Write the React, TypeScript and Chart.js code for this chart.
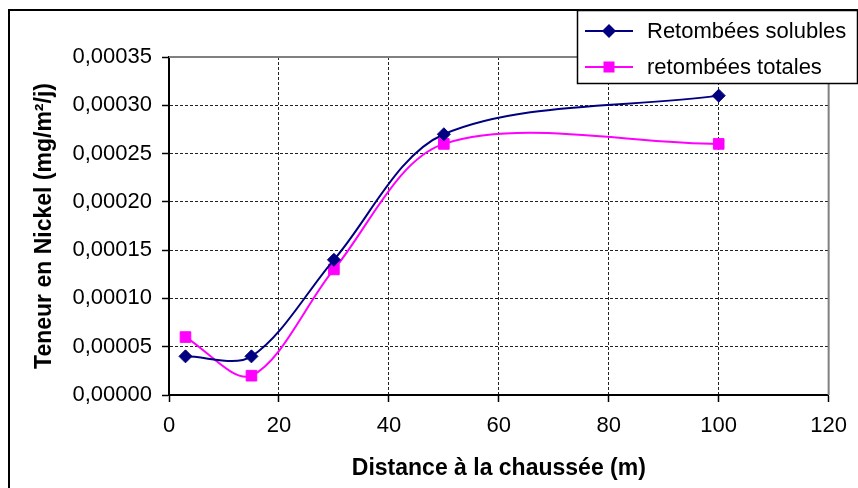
import React, { useEffect, useRef } from 'react';
import { Chart, registerables } from 'chart.js';

Chart.register(...registerables);

// ---- data ----
const distances = [3, 15, 30, 50, 100];
const solubles = [0.00004, 0.00004, 0.00014, 0.00027, 0.00031];
const totales = [0.00006, 0.00002, 0.00013, 0.00026, 0.00026];
const seriesLabels = ['Retombées solubles', 'retombées totales'];
const seriesColors = ['#000080', '#FF00FF'];
const xTitle = 'Distance à la chaussée (m)';
const yTitle = 'Teneur en Nickel (mg/m²/j)';
const xTicks = { min: 0, max: 120, step: 20 };
const yTicks = { min: 0, max: 0.00035, step: 0.00005 };

const FONT = 'Arial, "Liberation Sans", sans-serif';

const framePlugin = {
  id: 'frameAndLegend',
  beforeDatasetsDraw(chart: any) {
    const { ctx, chartArea } = chart;
    const { left, top, right, bottom } = chartArea;
    ctx.save();
    ctx.strokeStyle = '#808080';
    ctx.lineWidth = 2;
    ctx.setLineDash([]);
    ctx.beginPath();
    ctx.moveTo(left, top);
    ctx.lineTo(right, top);
    ctx.lineTo(right, bottom);
    ctx.stroke();
    ctx.restore();
  },
  afterDraw(chart: any) {
    const { ctx } = chart;
    ctx.save();
    ctx.setLineDash([]);
    // outer chart border
    ctx.strokeStyle = '#000';
    ctx.lineWidth = 2;
    ctx.strokeRect(9, 10, 1200, 1200);
    // legend box
    const bx = 577.5, by = 10.5, bw = 280, bh = 73;
    ctx.fillStyle = '#fff';
    ctx.fillRect(bx, by, bw, bh);
    ctx.lineWidth = 1.5;
    ctx.strokeStyle = '#000';
    ctx.strokeRect(bx, by, bw, bh);
    const rows = [31, 67];
    chart.data.datasets.forEach((ds: any, i: number) => {
      const y = rows[i];
      ctx.strokeStyle = ds.borderColor;
      ctx.lineWidth = 2;
      ctx.beginPath();
      ctx.moveTo(585, y);
      ctx.lineTo(633, y);
      ctx.stroke();
      ctx.fillStyle = ds.borderColor;
      ctx.beginPath();
      if (i === 0) {
        const r = 7;
        ctx.moveTo(609, y - r);
        ctx.lineTo(609 + r, y);
        ctx.lineTo(609, y + r);
        ctx.lineTo(609 - r, y);
        ctx.closePath();
      } else {
        ctx.rect(609 - 5.5, y - 5.5, 11, 11);
      }
      ctx.fill();
      ctx.fillStyle = '#000';
      ctx.font = `22px ${FONT}`;
      ctx.textAlign = 'left';
      ctx.textBaseline = 'middle';
      ctx.fillText(ds.label, 647, y + 1);
    });
    ctx.restore();
  },
};

export default function App() {
  const ref = useRef<HTMLCanvasElement | null>(null);

  useEffect(() => {
    if (!ref.current) return;
    const chart = new Chart(ref.current, {
      type: 'line',
      data: {
        datasets: [
          {
            label: seriesLabels[0],
            data: distances.map((x, i) => ({ x, y: solubles[i] })),
            borderColor: seriesColors[0],
            backgroundColor: seriesColors[0],
            borderWidth: 2,
            pointStyle: 'rectRot',
            pointRadius: 6.5,
            pointBorderWidth: 1,
            tension: 0.32,
            fill: false,
          },
          {
            label: seriesLabels[1],
            data: distances.map((x, i) => ({ x, y: totales[i] })),
            borderColor: seriesColors[1],
            backgroundColor: seriesColors[1],
            borderWidth: 2,
            pointStyle: 'rect',
            pointRadius: 7.5,
            pointBorderWidth: 1,
            tension: 0.32,
            fill: false,
          },
        ],
      },
      options: {
        responsive: false,
        animation: false,
        layout: { padding: { top: 57, right: 20, left: 0, bottom: 0 } },
        plugins: {
          legend: { display: false },
          tooltip: { enabled: false },
        },
        scales: {
          x: {
            type: 'linear',
            min: xTicks.min,
            max: xTicks.max,
            afterFit: (s: any) => { s.height = 93; },
            ticks: {
              stepSize: xTicks.step,
              color: '#000',
              font: { family: FONT, size: 22 },
              padding: 11,
              maxRotation: 0,
            },
            grid: {
              color: '#222',
              lineWidth: 1,
              tickLength: 7,
              tickColor: '#000',
              tickWidth: 1.5,
              tickBorderDash: [],
            },
            border: { color: '#000', width: 2, dash: [3, 2] },
            title: {
              display: true,
              text: xTitle,
              color: '#000',
              font: { family: FONT, size: 23, weight: 'bold' },
              padding: { top: 0, bottom: 6 },
            },
          },
          y: {
            type: 'linear',
            min: yTicks.min,
            max: yTicks.max,
            afterFit: (s: any) => { s.width = 169; },
            ticks: {
              stepSize: yTicks.step,
              color: '#000',
              font: { family: FONT, size: 22 },
              padding: 10,
              callback: (v: any) => Number(v).toFixed(5).replace('.', ','),
            },
            grid: {
              color: '#222',
              lineWidth: 1,
              tickLength: 7,
              tickColor: '#000',
              tickWidth: 1.5,
              tickBorderDash: [],
            },
            border: { color: '#000', width: 2, dash: [3, 2] },
            title: {
              display: true,
              text: yTitle,
              color: '#000',
              font: { family: FONT, size: 23, weight: 'bold' },
              padding: { top: 31, bottom: 0 },
            },
          },
        },
      },
      plugins: [framePlugin],
    } as any);
    return () => chart.destroy();
  }, []);

  return (
    <div style={{ position: 'fixed', left: 0, top: 0, width: 858, height: 488, background: '#fff' }}>
      <canvas ref={ref} width={858} height={488} style={{ display: 'block', width: 858, height: 488 }} />
    </div>
  );
}
